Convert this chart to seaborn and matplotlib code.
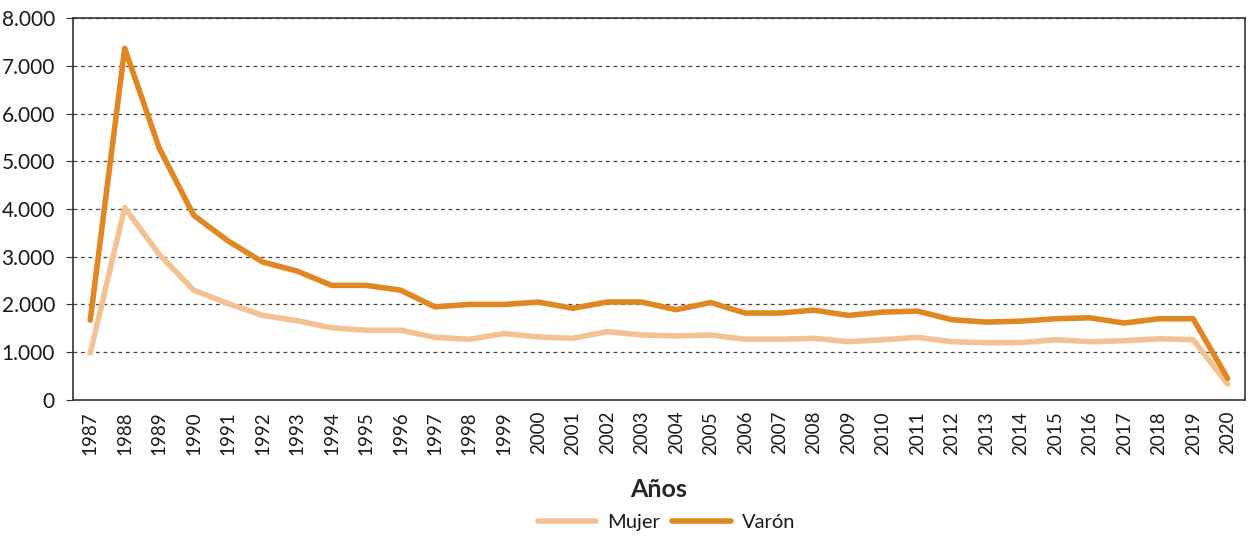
import pandas as pd
import matplotlib.pyplot as plt
import seaborn as sns
from matplotlib.ticker import FuncFormatter, MultipleLocator

plt.switch_backend('Agg')

years = list(range(1987, 2021))
mujer = [980, 4030, 3050, 2300, 2020, 1770, 1660, 1510, 1460, 1460,
         1310, 1270, 1390, 1320, 1290, 1430, 1360, 1340, 1360, 1270,
         1270, 1290, 1220, 1260, 1310, 1220, 1200, 1200, 1260, 1220,
         1240, 1280, 1260, 330]
varon = [1670, 7370, 5280, 3870, 3330, 2890, 2700, 2400, 2400, 2300,
         1950, 2000, 2000, 2050, 1920, 2050, 2050, 1890, 2040, 1820,
         1820, 1880, 1770, 1840, 1860, 1680, 1630, 1650, 1700, 1720,
         1610, 1700, 1700, 450]
series = ['Mujer', 'Varón']
colors = ['#F2C292', '#E08722']

df = pd.DataFrame({'Año': years * 2,
                   'Valor': mujer + varon,
                   'Sexo': ['Mujer'] * len(years) + ['Varón'] * len(years)})

sns.set_style('white')
plt.rcParams['font.family'] = ['Lato', 'DejaVu Sans']
plt.rcParams['text.color'] = '#1a1a1a'

fig = plt.figure(figsize=(12.48, 5.36), dpi=100)
ax = fig.add_axes([0.0585, 0.254, 0.939, 0.712])

sns.lineplot(data=df, x='Año', y='Valor', hue='Sexo', hue_order=series,
             palette=colors, linewidth=4, ax=ax, legend=False)

ax.set_xlim(years[0] - 0.5, years[-1] + 0.5)
ax.set_ylim(0, 8000)
ax.yaxis.set_major_locator(MultipleLocator(1000))
ax.yaxis.set_major_formatter(FuncFormatter(lambda v, p: f'{int(v):,}'.replace(',', '.')))
ax.yaxis.grid(True, linestyle=(0, (3, 3)), color='#444444', linewidth=0.9)
ax.set_axisbelow(True)

ax.set_xticks(years)
ax.set_xticklabels([str(y) for y in years], rotation=90, fontsize=13.5)
ax.set_xticks([y + 0.5 for y in [years[0] - 1] + years], minor=True)
ax.tick_params(axis='x', which='major', length=0, pad=8, labelcolor='#1a1a1a')
ax.tick_params(axis='x', which='minor', length=5, color='#333333', direction='out')
ax.tick_params(axis='y', length=5, color='#333333', labelsize=15, direction='out',
               left=True, pad=8, labelcolor='#1a1a1a')

for s in ax.spines.values():
    s.set_color('#333333')
    s.set_linewidth(1.2)

ax.set_xlabel('Años', fontsize=18, fontweight='bold', labelpad=17)
ax.set_ylabel('')

handles = [plt.Line2D([], [], color=c, linewidth=4) for c in colors]
fig.legend(handles, series, loc='center', bbox_to_anchor=(0.534, 0.026), ncol=2,
           frameon=False, fontsize=14.5, handlelength=2.9, columnspacing=0.6,
           handletextpad=0.55)

fig.savefig('out.png', dpi=100)
